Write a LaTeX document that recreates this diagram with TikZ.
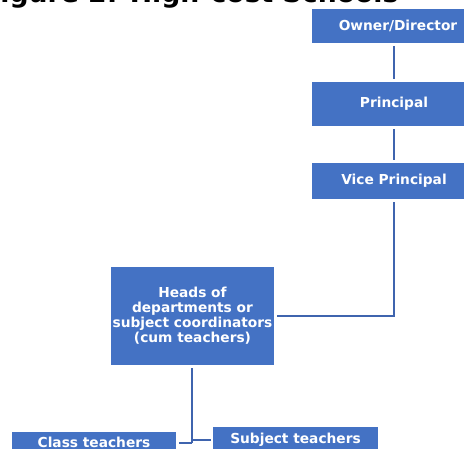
\documentclass[tikz,border=0pt]{standalone}
\usepackage{fontspec}
\setmainfont{DejaVu Sans}
\begin{document}
\begin{tikzpicture}[x=1bp,y=-1bp,
  box/.style={fill=boxblue,text=white,font=\bfseries\fontsize{13.8}{15}\selectfont,align=center,inner sep=0pt},
  link/.style={draw=lineblue,line width=2.2bp}]
\definecolor{boxblue}{HTML}{4472C4}
\definecolor{lineblue}{HTML}{3F64AE}
\useasboundingbox (0,0) rectangle (464,449);
\node[anchor=base east,font=\bfseries\fontsize{26.8}{30}\selectfont] (title) at (402,3) {Figure 2: High-cost Schools};
\node[box,minimum width=172bp,minimum height=34bp] (owner) at (398,26) {Owner/Director};
\node[box,minimum width=164bp,minimum height=44bp] (pr) at (394,104) {Principal};
\node[box,minimum width=164bp,minimum height=36bp] (vp) at (394,181) {Vice Principal};
\node[box,minimum width=163bp,minimum height=98bp] (hod) at (192.5,316) {Heads of\\departments or\\subject coordinators\\(cum teachers)};
\node[box,minimum width=164bp,minimum height=20bp] (class) at (94,442) {Class teachers};
\node[box,minimum width=165bp,minimum height=26bp] (subj) at (295.5,440) {Subject teachers};
\coordinate (jn) at (192,443);
\coordinate (jn2) at (192,440);
\draw[link,shorten <=3bp,shorten >=3bp] (owner.south -| pr.north) -- (pr.north);
\draw[link,shorten <=3bp,shorten >=3bp] (pr.south) -- (vp.north);
\draw[link,shorten <=3bp,shorten >=3bp] (vp.south) |- (hod.east);
\draw[link,shorten <=3bp] (hod.south -| jn) -- (jn);
\draw[link,shorten >=3bp] (jn) -- (jn -| class.east);
\draw[link,shorten >=2bp] (jn2) -- (jn2 -| subj.west);
\end{tikzpicture}
\end{document}
